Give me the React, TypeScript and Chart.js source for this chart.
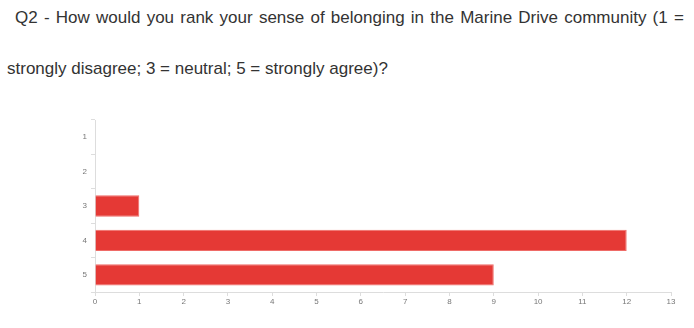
import React, { useEffect, useRef } from "react";
import { Chart, registerables } from "chart.js";

Chart.register(...registerables);

const titleLines = [
  "Q2 - How would you rank your sense of belonging in the Marine Drive community (1 =",
  "strongly disagree; 3 = neutral; 5 = strongly agree)?",
];
const categories = ["1", "2", "3", "4", "5"];
const counts = [0, 0, 1, 12, 9];
const xMax = 13;

export default function App() {
  const ref = useRef<HTMLCanvasElement | null>(null);
  useEffect(() => {
    if (!ref.current) return;
    const chart = new Chart(ref.current, {
      type: "bar",
      data: {
        labels: categories,
        datasets: [
          {
            data: counts,
            backgroundColor: "#e53935",
            borderColor: "#ef6b67",
            borderWidth: 1,
            barPercentage: 0.62,
            categoryPercentage: 1,
          },
        ],
      },
      options: {
        indexAxis: "y",
        animation: false,
        responsive: false,
        maintainAspectRatio: false,
        layout: { padding: { left: 70, right: 23, top: 120, bottom: 0 } },
        plugins: { legend: { display: false }, tooltip: { enabled: false }, title: { display: false } },
        scales: {
          x: {
            min: 0,
            max: xMax,
            ticks: { stepSize: 1, color: "#777", font: { family: "Liberation Sans, Arial, sans-serif", size: 8 }, padding: 1 },
            grid: { drawOnChartArea: false, drawTicks: true, tickLength: 4, color: "#ddd" },
            border: { color: "#ddd" },
            afterFit: (s: any) => { s.height = 36; },
          },
          y: {
            ticks: { color: "#777", font: { family: "Liberation Sans, Arial, sans-serif", size: 8 }, padding: 4 },
            grid: { drawOnChartArea: false, drawTicks: true, tickLength: 4, color: "#ddd", offset: true },
            border: { color: "#ddd" },
            afterFit: (s: any) => { s.width = 25; },
          },
        },
      },
    });
    return () => chart.destroy();
  }, []);
  return (
    <div style={{ position: "absolute", left: 0, top: 0, width: 694, height: 328, background: "#fff", overflow: "hidden" }}>
      <div style={{ position: "absolute", left: 15, top: 8, whiteSpace: "nowrap", font: "17px 'Liberation Sans', Arial, sans-serif", color: "#333", wordSpacing: "1.5px" }}>
        {titleLines[0]}
      </div>
      <div style={{ position: "absolute", left: 7, top: 59, whiteSpace: "nowrap", font: "17px 'Liberation Sans', Arial, sans-serif", color: "#333" }}>
        {titleLines[1]}
      </div>
      <canvas ref={ref} width={694} height={328} style={{ position: "absolute", left: 0, top: 0 }} />
    </div>
  );
}
